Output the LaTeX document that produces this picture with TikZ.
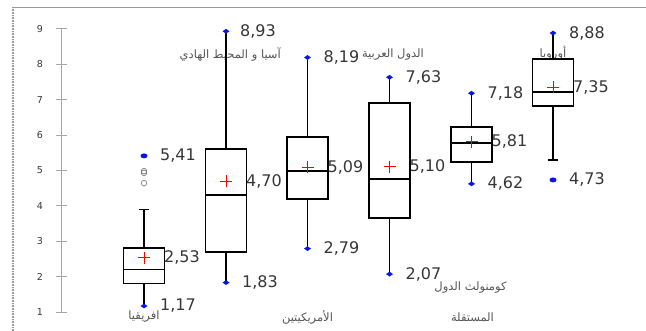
\documentclass[tikz,border=0pt]{standalone}
\usepackage{fontspec}
\setmainfont{DejaVu Sans}
\newfontfamily\arabicfont[Script=Arabic]{DejaVu Sans}
\TeXXeTstate=1
\definecolor{numgray}{HTML}{363636}
\definecolor{argray}{HTML}{555555}
\definecolor{axgray}{HTML}{A6A6A6}
\definecolor{mkblue}{HTML}{0A14E6}
\begin{document}
\begin{tikzpicture}[x=1pt,y=35.4pt,
  bx/.style={line width=1.6pt},
  wk/.style={line width=1.5pt},
  mn/.style={red,line width=.8pt},
  num/.style={anchor=west,inner sep=0pt,text=numgray,font=\fontsize{16}{16}\selectfont},
  ar/.style={inner sep=0pt,text=argray,font=\arabicfont\fontsize{11.5}{12}\selectfont},
  tl/.style={inner sep=0pt,text=numgray,font=\fontsize{9.5}{10}\selectfont}]
  \useasboundingbox (0,0.4633) rectangle (646,9.8136);
  \def\dmd{+(-3.5pt,0) -- +(0,2.4pt) -- +(3.5pt,0) -- +(0,-2.4pt) -- cycle}
  \def\pls{+(-6pt,0) -- +(6pt,0) +(0,-6pt) -- +(0,6pt)}
  % frame
  \draw [gray!80, line width=.8pt] (646,9.616) -- (13,9.616);
  \draw [gray!80, line width=1.6pt, dash pattern=on .8pt off .8pt] (13,9.616) -- (13,0.4633);
  % axis
  \draw [axgray, line width=.8pt] (61,1) -- (61,9);
  \draw [axgray, line width=.8pt] (56,1) -- (67,1) (40,1) node [tl] (t1) {1};
  \draw [axgray, line width=.8pt] (56,2) -- (67,2) (40,2) node [tl] (t2) {2};
  \draw [axgray, line width=.8pt] (56,3) -- (67,3) (40,3) node [tl] (t3) {3};
  \draw [axgray, line width=.8pt] (56,4) -- (67,4) (40,4) node [tl] (t4) {4};
  \draw [axgray, line width=.8pt] (56,5) -- (67,5) (40,5) node [tl] (t5) {5};
  \draw [axgray, line width=.8pt] (56,6) -- (67,6) (40,6) node [tl] (t6) {6};
  \draw [axgray, line width=.8pt] (56,7) -- (67,7) (40,7) node [tl] (t7) {7};
  \draw [axgray, line width=.8pt] (56,8) -- (67,8) (40,8) node [tl] (t8) {8};
  \draw [axgray, line width=.8pt] (56,9) -- (67,9) (40,9) node [tl] (t9) {9};
  % africa
  \begin{scope}[xshift=144pt]
    \node [num] (afLo) at (16,1.17) {1,17};
    \node [num] (afMu) at (20,2.53) {2,53};
    \node [num] (afOut) at (16,5.41) {5,41};
    \node [ar] (afr) at (0,0.86) {\beginR افريقيا\endR};
    \draw [wk] (0,1.8) -- (0,1.17) (0,2.8) -- (0,3.9) (-5,3.9) -- (5,3.9);
    \draw [bx] (-20.5,1.8) rectangle (20.5,2.8) (-20.5,2.2) -- (20.5,2.2);
    \draw [mn] (0,2.53) \pls;
    \fill [mkblue] (0,1.17) \dmd;
    \fill [mkblue] (0,5.41) ellipse (3.5pt and 2.5pt);
    \draw [gray, line width=.7pt] (0,4.98) circle (2.8pt) (0,4.93) circle (2.8pt) (0,4.64) circle (2.8pt);
  \end{scope}
  % asia
  \begin{scope}[xshift=226pt]
    \node [num] (asHi) at (14,8.93) {8,93};
    \node [num] (asMu) at (20,4.70) {4,70};
    \node [num] (asLo) at (16,1.83) {1,83};
    \node [ar, anchor=east] (asi) at (55,8.26) {\beginR آسيا و المحيط الهادي\endR};
    \draw [wk] (0,2.7) -- (0,1.83) (0,5.6) -- (0,8.93);
    \draw [bx] (-20.5,2.7) rectangle (20.5,5.6) (-20.5,4.3) -- (20.5,4.3);
    \draw [mn] (0,4.70) \pls;
    \fill [mkblue] (0,1.83) \dmd;
    \fill [mkblue] (0,8.93) \dmd;
  \end{scope}
  % americas
  \begin{scope}[xshift=307.5pt]
    \node [ar, anchor=east] (arb) at (116.5,8.26) {\beginR الدول العربية\endR};
    \node [num] (amHi) at (16,8.19) {8,19};
    \node [num] (amMu) at (20,5.09) {5,09};
    \node [num] (amLo) at (16,2.79) {2,79};
    \node [ar] (ame) at (0,0.86) {\beginR الأمريكيتين\endR};
    \draw [wk] (0,4.2) -- (0,2.79) (0,5.95) -- (0,8.19);
    \draw [bx] (-20.5,4.2) rectangle (20.5,5.95) (-20.5,4.98) -- (20.5,4.98);
    \draw [mn] (0,5.09) \pls;
    \fill [mkblue] (0,2.79) \dmd;
    \fill [mkblue] (0,8.19) \dmd;
  \end{scope}
  % arab countries
  \begin{scope}[xshift=389.5pt]
    \node [num] (arHi) at (16,7.63) {7,63};
    \node [num] (arMu) at (20,5.10) {5,10};
    \node [num] (arLo) at (16,2.07) {2,07};
    \draw [wk] (0,3.66) -- (0,2.07) (0,6.9) -- (0,7.63);
    \draw [bx] (-20.5,3.66) rectangle (20.5,6.9) (-20.5,4.76) -- (20.5,4.76);
    \draw [mn] (0,5.10) \pls;
    \fill [mkblue] (0,2.07) \dmd;
    \fill [mkblue] (0,7.63) \dmd;
  \end{scope}
  % cis
  \begin{scope}[xshift=471.5pt]
    \node [num] (cwHi) at (16,7.18) {7,18};
    \node [num] (cwMu) at (20,5.81) {5,81};
    \node [num] (cwLo) at (16,4.62) {4,62};
    \node [ar] (cw1) at (-1,1.68) {\beginR كومنولث الدول\endR};
    \node [ar] (cw2) at (1,0.86) {\beginR المستقلة\endR};
    \draw [wk] (0,5.24) -- (0,4.62) (0,6.23) -- (0,7.18);
    \draw [bx] (-20.5,5.24) rectangle (20.5,6.23) (-20.5,5.78) -- (20.5,5.78);
    \draw [mn] (0,5.81) \pls;
    \fill [mkblue] (0,4.62) \dmd;
    \fill [mkblue] (0,7.18) \dmd;
  \end{scope}
  % europe
  \begin{scope}[xshift=553pt]
    \node [num] (euHi) at (16,8.88) {8,88};
    \node [num] (euMu) at (20,7.35) {7,35};
    \node [num] (euOut) at (16,4.73) {4,73};
    \node [ar] (eur) at (0,8.32) {\beginR أوروبا\endR};
    \draw [wk] (0,6.82) -- (0,5.29) (0,8.15) -- (0,8.88) (-5,5.29) -- (5,5.29);
    \draw [bx] (-20.5,6.82) rectangle (20.5,8.15) (-20.5,7.21) -- (20.5,7.21);
    \draw [mn] (0,7.35) \pls;
    \fill [mkblue] (0,8.88) \dmd;
    \fill [mkblue] (0,4.73) ellipse (3.5pt and 2.5pt);
  \end{scope}
\end{tikzpicture}
\end{document}
